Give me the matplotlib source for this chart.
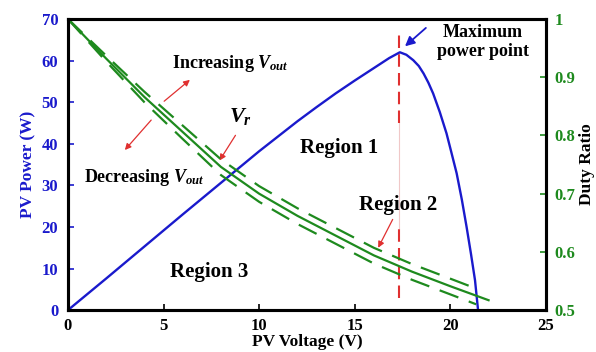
import matplotlib
matplotlib.use('Agg')
import matplotlib.pyplot as plt

plt.rcParams['font.family'] = 'Liberation Serif'
plt.rcParams['font.weight'] = 'bold'
plt.rcParams['axes.labelweight'] = 'bold'
plt.rcParams['mathtext.fontset'] = 'custom'
plt.rcParams['mathtext.rm'] = 'Liberation Serif:bold'
plt.rcParams['mathtext.it'] = 'Liberation Serif:italic:bold'

# PV power curve
pv_v = [0, 2, 4, 6, 8, 10, 12, 13, 14, 15, 16, 16.8, 17.36, 17.7, 18.06,
        18.35, 18.6, 18.85, 19.1, 19.45, 19.8, 20.05, 20.33, 20.6, 20.85,
        21.08, 21.29, 21.45]
pv_p = [0, 7.6, 15.3, 23.0, 30.6, 38.2, 45.4, 48.8, 52.1, 55.2, 58.2, 60.6,
        62.0, 61.4, 60.1, 58.7, 56.9, 54.7, 52.1, 47.6, 42.5, 38.0, 32.9,
        26.6, 20.0, 13.5, 7.2, 0]

# duty ratio: nominal and the two ripple bounds
duty_v = [0, 2, 4, 6, 8, 10, 12, 14, 16, 18, 20, 22]
duty = [1.0, 0.932, 0.866, 0.806, 0.746, 0.700, 0.662, 0.628, 0.594, 0.566,
        0.541, 0.517]
band_v = [0, 2, 4, 6, 8, 10, 12, 14, 16, 18, 20, 21.35]
duty_hi = [1.0, 0.937, 0.875, 0.817, 0.759, 0.713, 0.675, 0.641, 0.607, 0.579,
           0.554, 0.537]
duty_lo = [1.0, 0.927, 0.857, 0.794, 0.732, 0.686, 0.648, 0.614, 0.580, 0.552,
           0.527, 0.510]

v_mpp = 17.3
x_ticks = [0, 5, 10, 15, 20, 25]
p_ticks = [0, 10, 20, 30, 40, 50, 60, 70]
d_ticks = [0.5, 0.6, 0.7, 0.8, 0.9, 1.0]
d_labels = ['0.5', '0.6', '0.7', '0.8', '0.9', '1']

blue = '#1a1acc'
green = '#1e8a1e'
red = '#e03030'

fig = plt.figure(figsize=(5.96, 3.52), dpi=100)
ax = fig.add_axes([0.114, 0.119, 0.802, 0.827])
ax2 = ax.twinx()

ax.plot(pv_v, pv_p, color=blue, lw=1.7, zorder=3)

# max power point marker line
ax.plot([v_mpp, v_mpp], [19.7, 45], color='#f0c8c8', lw=0.8, zorder=1)
ax.plot([v_mpp, v_mpp], [45, 66.9], color=red, lw=1.5, dashes=(6, 3), zorder=2)
ax.plot([v_mpp, v_mpp], [2.9, 19.7], color=red, lw=1.5, dashes=(6, 3), zorder=2)

ax2.plot(duty_v, duty, color=green, lw=1.6)
ax2.plot(band_v, duty_hi, color=green, lw=1.6, dashes=(9, 5))
ax2.plot(band_v, duty_lo, color=green, lw=1.6, dashes=(9, 5))

ax.set_xlim(0, 25)
ax.set_ylim(0, 70)
ax2.set_ylim(0.5, 1.0)
ax.set_xticks(x_ticks)
ax.set_yticks(p_ticks)
ax2.set_yticks(d_ticks)
ax2.set_yticklabels(d_labels)

ax.tick_params(axis='both', direction='in', length=4, width=1.2, labelsize=12)
ax.tick_params(axis='y', colors=blue, pad=7)
ax.tick_params(axis='x', pad=6)
ax2.tick_params(axis='y', direction='in', length=4, width=1.2, labelsize=12,
                colors=green, pad=6)
for t in ax.get_yticklines() + ax2.get_yticklines():
    t.set_color('black')
for a in (ax, ax2):
    for s in a.spines.values():
        s.set_linewidth(2.2)
        s.set_color('black')

ax.set_xlabel('PV Voltage (V)', fontsize=12.5, labelpad=0)
ax.set_ylabel('PV Power (W)', fontsize=12.5, color=blue, labelpad=4)
ax2.set_ylabel('Duty Ratio', fontsize=12.5, labelpad=3)

txt = dict(ha='center', va='center', fontweight='bold')
ax.text(8.5, 59.4, r'Increasing $V_{out}$', fontsize=13, **txt)
ax.text(3.97, 31.8, r'Decreasing $V_{out}$', fontsize=13, **txt)
ax.text(9.0, 46.5, r'$V_r$', fontsize=16, **txt)
ax.text(14.2, 39.0, 'Region 1', fontsize=15, **txt)
ax.text(17.26, 25.3, 'Region 2', fontsize=15, **txt)
ax.text(7.37, 9.1, 'Region 3', fontsize=15, **txt)
ax.text(21.7, 64.5, 'Maximum\npower point', fontsize=13, linespacing=1.1, **txt)

red_arrow = dict(arrowstyle='-|>', color=red, lw=0.9, mutation_scale=9)
ax.annotate('', xy=(6.49, 55.8), xytext=(4.92, 49.8), arrowprops=red_arrow)
ax.annotate('', xy=(2.88, 38.0), xytext=(4.45, 46.2), arrowprops=red_arrow)
ax.annotate('', xy=(7.85, 35.4), xytext=(8.84, 42.6), arrowprops=red_arrow)
ax.annotate('', xy=(16.16, 14.4), xytext=(17.05, 22.4), arrowprops=red_arrow)
ax.annotate('', xy=(17.52, 63.0), xytext=(18.83, 68.3),
            arrowprops=dict(arrowstyle='-|>', color=blue, lw=1.3,
                            mutation_scale=14))

fig.savefig('out.png', dpi=100)
